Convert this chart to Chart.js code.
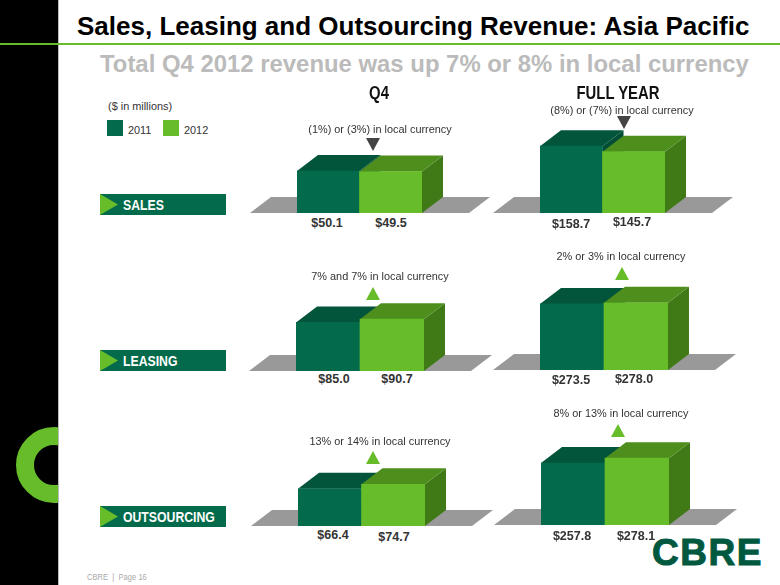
<!DOCTYPE html>
<html>
<head>
<meta charset="utf-8">
<title>Sales, Leasing and Outsourcing Revenue: Asia Pacific</title>
<script src="https://cdn.jsdelivr.net/npm/chart.js@4"></script>
<style>
  html, body { margin: 0; padding: 0; background: #fff; }
  #slide { position: relative; width: 780px; height: 585px; overflow: hidden; background: #fff; font-family: "Liberation Sans", Arial, sans-serif; }
  #slide canvas { position: absolute; }
  #sidebar { position: absolute; left: 0; top: 0; width: 58px; height: 585px; background: #000; overflow: hidden; border-right: 1px solid #bbb; }
  #ring { position: absolute; left: 16px; top: 427px; width: 40px; height: 40px; border: 18px solid #66bc29; border-radius: 50%; }
  #rule { position: absolute; left: 0; top: 43px; width: 780px; height: 2px; background: #66bc29; }
  .txt { position: absolute; white-space: nowrap; transform: translate(-50%, -50%); z-index: 5; }
  .left { transform: translate(0, -50%); }
  .note { font-size: 10.9px; color: #333; }
  .val { font-size: 12.5px; font-weight: bold; color: #333; }
  .head { font-weight: bold; font-size: 17.5px; color: #111; transform: translate(-50%, -50%) scaleX(0.85); }
  .tag { position: absolute; left: 100px; width: 126px; height: 21px; background: #036b4b; z-index: 4; }
  .tag i { position: absolute; left: 0; top: 0; width: 18px; height: 21px; background: #66bc29; clip-path: polygon(0 0, 100% 50%, 0 100%); }
  .tag span { position: absolute; left: 23px; top: 0; line-height: 21px; color: #fff; font-weight: bold; font-size: 15.5px; transform: scaleX(0.79); transform-origin: left center; }
  .swatch { position: absolute; top: 120px; width: 16px; height: 16px; }
  .tri { position: absolute; width: 14px; height: 13px; z-index: 6; }
  .tri.up { background: #66bc29; clip-path: polygon(50% 0, 100% 100%, 0 100%); }
  .tri.down { background: #444; clip-path: polygon(0 0, 100% 0, 50% 100%); }
</style>
</head>
<body>
<div id="slide">
  <div id="sidebar"><div id="ring"></div></div>
  <div id="rule"></div>

  <div class="txt left" style="left:77px;top:26px;font-size:26px;font-weight:bold;color:#000">Sales, Leasing and Outsourcing Revenue: Asia Pacific</div>
  <div class="txt left" style="left:100px;top:64px;font-size:23.9px;font-weight:bold;color:#bbb">Total Q4 2012 revenue was up 7% or 8% in local currency</div>

  <div class="txt left note" style="left:108px;top:106px">($ in millions)</div>
  <div class="swatch" style="left:107px;background:#036b4b"></div>
  <div class="swatch" style="left:163px;background:#66bc29"></div>
  <div class="txt left note" style="left:128px;top:130px">2011</div>
  <div class="txt left note" style="left:184px;top:130px">2012</div>

  <div class="txt head" style="left:379px;top:93px">Q4</div>
  <div class="txt head" style="left:618px;top:93px">FULL YEAR</div>

  <div class="tag" style="top:194px"><i></i><span>SALES</span></div>
  <div class="tag" style="top:350px"><i></i><span>LEASING</span></div>
  <div class="tag" style="top:506px"><i></i><span>OUTSOURCING</span></div>

  <div class="txt left" style="left:87px;top:576px;font-size:9.5px;color:#aaa;transform:translate(0,-50%) scaleX(0.8);transform-origin:left center">CBRE &nbsp;|&nbsp; Page 16</div>
  <div class="txt left" style="left:652px;top:553px;font-size:37px;font-weight:bold;color:#00593f;-webkit-text-stroke:1px #00593f;letter-spacing:1.5px">CBRE</div>
</div>

<script>
// Values in $ millions
const years = ['2011', '2012'];
const q4Sales = [50.1, 49.5];
const fySales = [158.7, 145.7];
const q4Leasing = [85.0, 90.7];
const fyLeasing = [273.5, 278.0];
const q4Outsourcing = [66.4, 74.7];
const fyOutsourcing = [257.8, 278.1];

// Change notes above each panel
const changeNotes = [
    '(1%) or (3%) in local currency', '(8%) or (7%) in local currency',
    '7% and 7% in local currency', '2% or 3% in local currency',
    '13% or 14% in local currency', '8% or 13% in local currency'
];

// Colours: front, top, side
const frontColors = ['#036b4b', '#66bc29'];
const topColors = ['#02553a', '#4e8e1d'];
const sideColors = ['#024d35', '#3f7a17'];
const floorColor = '#999999';

const DEPTH_X = 21, DEPTH_Y = 16, FLOOR_OVER = 47;
const PLOT_H = 80, PAD_TOP = 30, PAD_LEFT = 50, PAD_RIGHT = 70;

// Draws the floor plus the top and side of every bar; Chart.js paints the front
const cubePlugin = {
    id: 'cube',
    beforeDatasetsDraw(chart) {
        const ctx = chart.ctx;
        const bars = chart.getDatasetMeta(0).data;
        const base = bars[0].base;
        const left = bars[0].x - bars[0].width / 2;
        const right = bars[1].x + bars[1].width / 2;

        const poly = (color, pts) => {
            ctx.fillStyle = color;
            ctx.beginPath();
            pts.forEach((p, i) => i ? ctx.lineTo(p[0], p[1]) : ctx.moveTo(p[0], p[1]));
            ctx.closePath();
            ctx.fill();
        };

        poly(floorColor, [
            [left - FLOOR_OVER, base],
            [right + FLOOR_OVER, base],
            [right + FLOOR_OVER + DEPTH_X, base - DEPTH_Y],
            [left - FLOOR_OVER + DEPTH_X, base - DEPTH_Y]
        ]);

        bars.forEach((bar, i) => {
            const x0 = bar.x - bar.width / 2;
            const x1 = bar.x + bar.width / 2;
            poly(sideColors[i], [[x1, base], [x1 + DEPTH_X, base - DEPTH_Y], [x1 + DEPTH_X, bar.y - DEPTH_Y], [x1, bar.y]]);
            poly(topColors[i], [[x0, bar.y], [x1, bar.y], [x1 + DEPTH_X, bar.y - DEPTH_Y], [x0 + DEPTH_X, bar.y - DEPTH_Y]]);
        });
    }
};

// One small chart per panel
function makePanel(values, yMax, barLeft, baseline, plotW) {
    const canvas = document.createElement('canvas');
    const w = PAD_LEFT + plotW + PAD_RIGHT;
    const h = PAD_TOP + PLOT_H;
    canvas.width = w;
    canvas.height = h;
    canvas.style.left = (barLeft - PAD_LEFT) + 'px';
    canvas.style.top = (baseline - PLOT_H - PAD_TOP) + 'px';
    document.getElementById('slide').appendChild(canvas);

    return new Chart(canvas.getContext('2d'), {
        type: 'bar',
        data: {
            labels: years,
            datasets: [{
                data: values,
                backgroundColor: frontColors,
                barPercentage: 1,
                categoryPercentage: 1,
                borderWidth: 0
            }]
        },
        options: {
            responsive: false,
            animation: false,
            layout: { padding: { left: PAD_LEFT, right: PAD_RIGHT, top: PAD_TOP, bottom: 0 } },
            plugins: { legend: { display: false }, tooltip: { enabled: false } },
            scales: {
                x: { display: false },
                y: { display: false, min: 0, max: yMax }
            }
        },
        plugins: [cubePlugin]
    });
}

makePanel(q4Sales, 95.4, 297, 213, 125);
makePanel(fySales, 190, 540, 213, 125);
makePanel(q4Leasing, 140, 296, 371, 128);
makePanel(fyLeasing, 331, 540, 370, 128);
makePanel(q4Outsourcing, 143, 298, 526, 127);
makePanel(fyOutsourcing, 333, 541, 525, 128);

// Text overlays
function addText(cls, text, x, y) {
    const el = document.createElement('div');
    el.className = 'txt ' + cls;
    el.textContent = text;
    el.style.left = x + 'px';
    el.style.top = y + 'px';
    document.getElementById('slide').appendChild(el);
}

const fmt = v => '$' + v.toFixed(1);

addText('val', fmt(q4Sales[0]), 327, 223);
addText('val', fmt(q4Sales[1]), 391, 223);
addText('val', fmt(fySales[0]), 571, 224);
addText('val', fmt(fySales[1]), 632, 222);
addText('val', fmt(q4Leasing[0]), 334, 379);
addText('val', fmt(q4Leasing[1]), 397, 379);
addText('val', fmt(fyLeasing[0]), 571, 380);
addText('val', fmt(fyLeasing[1]), 634, 379);
addText('val', fmt(q4Outsourcing[0]), 333, 535);
addText('val', fmt(q4Outsourcing[1]), 394, 537);
addText('val', fmt(fyOutsourcing[0]), 572, 536);
addText('val', fmt(fyOutsourcing[1]), 636, 536);

addText('note', changeNotes[0], 380, 129);
addText('note', changeNotes[1], 622, 110);
addText('note', changeNotes[2], 380, 276);
addText('note', changeNotes[3], 621, 256);
addText('note', changeNotes[4], 380, 441);
addText('note', changeNotes[5], 621, 413);

function addTriangle(dir, x, y) {
    const el = document.createElement('div');
    el.className = 'tri ' + dir;
    el.style.left = (x - 7) + 'px';
    el.style.top = y + 'px';
    document.getElementById('slide').appendChild(el);
}

addTriangle('down', 373, 138);
addTriangle('down', 624, 116);
addTriangle('up', 373, 287);
addTriangle('up', 622, 267);
addTriangle('up', 373, 451);
addTriangle('up', 618, 424);
</script>
</body>
</html>
